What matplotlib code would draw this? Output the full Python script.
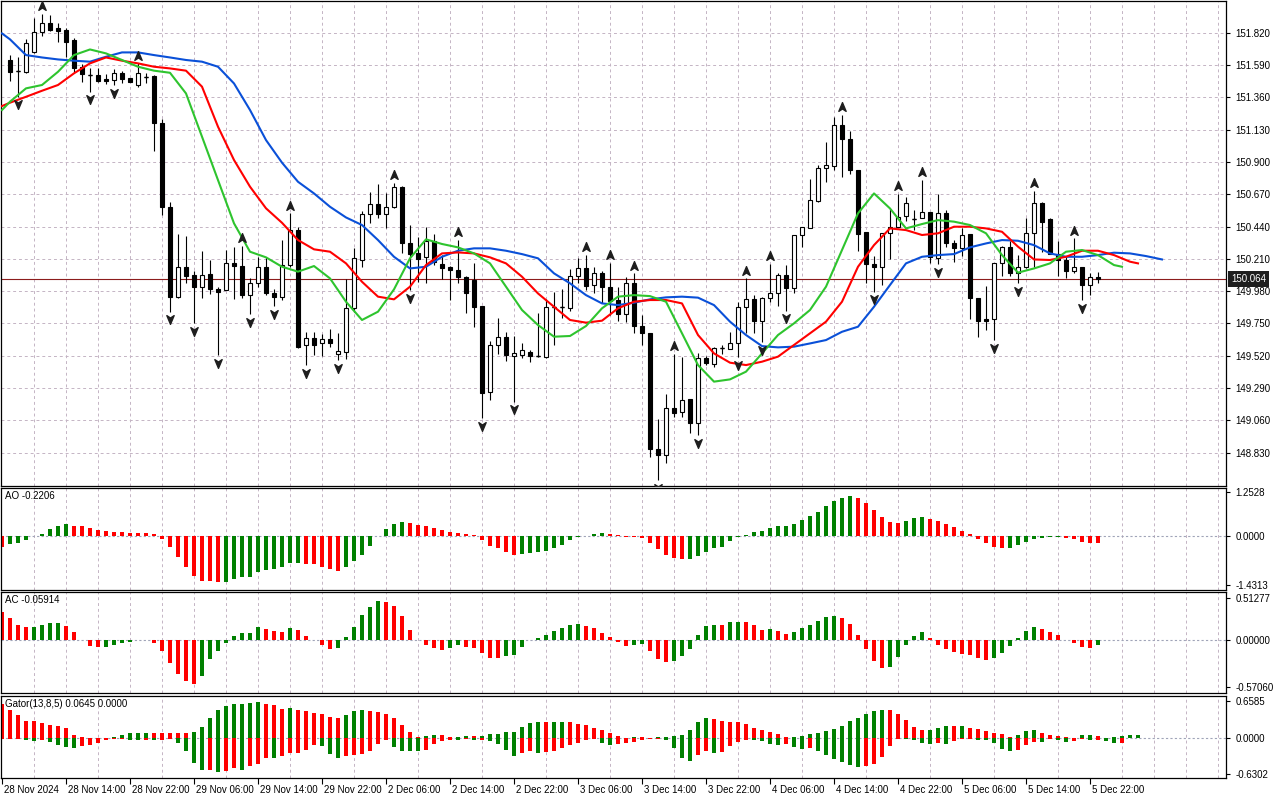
import numpy as np
import matplotlib
matplotlib.use("Agg")
import matplotlib.pyplot as plt
from matplotlib.path import Path
from matplotlib.ticker import FormatStrFormatter
from matplotlib.transforms import offset_copy, blended_transform_factory, ScaledTranslation

# ---- hourly candles, bar 0 = 28 Nov 07:00 ----
opens = [151.625, 151.547, 151.542, 151.685, 151.827, 151.886, 151.851, 151.839, 151.768, 151.578,
         151.519, 151.519, 151.490, 151.483, 151.531, 151.497, 151.447, 151.507, 151.512, 151.179,
         150.577, 149.936, 150.154, 150.093, 150.007, 150.100, 149.993, 149.988, 150.183, 150.159,
         149.955, 150.035, 150.149, 149.964, 149.941, 150.166, 150.415, 149.594, 149.644, 149.608,
         149.637, 149.532, 149.549, 149.858, 150.202, 150.527, 150.598, 150.527, 150.577, 150.719,
         150.325, 150.249, 150.221, 150.339, 150.171, 150.154, 150.130, 150.083, 150.059, 149.874,
         149.264, 149.596, 149.651, 149.518, 149.525, 149.549, 149.518, 149.509, 149.869, 149.869,
         149.858, 150.088, 150.142, 150.024, 150.107, 150.007, 149.917, 149.817, 150.040, 149.732,
         149.679, 148.854, 148.813, 149.146, 149.122, 149.210, 149.039, 149.502, 149.461, 149.573,
         149.568, 149.611, 149.865, 149.922, 149.770, 149.929, 149.967, 150.095, 150.000, 150.380,
         150.427, 150.624, 150.854, 150.873, 151.163, 151.061, 150.842, 150.399, 150.173, 150.154,
         150.396, 150.434, 150.515, 150.496, 150.498, 150.541, 150.214, 150.539, 150.325, 150.285,
         150.387, 149.929, 149.779, 149.779, 150.178, 150.292, 150.111, 150.154, 150.396, 150.605,
         150.491, 150.244, 150.202, 150.126, 150.149, 150.024, 150.078]
highs = [151.661, 151.650, 151.773, 151.922, 151.953, 151.945, 151.891, 151.851, 151.780, 151.597,
         151.566, 151.571, 151.526, 151.559, 151.549, 151.500, 151.602, 151.531, 151.519, 151.203,
         150.612, 150.384, 150.372, 150.126, 150.268, 150.202, 150.007, 150.273, 150.297, 150.305,
         150.071, 150.221, 150.221, 149.993, 150.344, 150.534, 150.439, 149.691, 149.691, 149.673,
         149.708, 149.679, 150.064, 150.285, 150.553, 150.683, 150.742, 150.676, 150.752, 150.728,
         150.451, 150.368, 150.439, 150.384, 150.237, 150.161, 150.344, 150.088, 150.178, 149.874,
         149.627, 149.786, 149.687, 149.663, 149.608, 149.561, 149.822, 149.922, 149.976, 149.993,
         150.135, 150.213, 150.237, 150.154, 150.126, 150.183, 150.012, 150.078, 150.107, 149.810,
         149.684, 149.067, 149.248, 149.532, 149.513, 149.210, 149.542, 149.518, 149.585, 149.596,
         149.691, 149.905, 150.071, 149.953, 149.941, 150.173, 150.111, 150.166, 150.380, 150.440,
         150.778, 150.878, 151.044, 151.222, 151.235, 151.123, 150.842, 150.399, 150.230, 150.396,
         150.562, 150.672, 150.652, 150.558, 150.771, 150.541, 150.672, 150.558, 150.344, 150.427,
         150.387, 149.929, 150.017, 150.178, 150.301, 150.339, 150.237, 150.498, 150.695, 150.617,
         150.498, 150.339, 150.230, 150.356, 150.149, 150.111, 150.119]
lows = [151.478, 151.365, 151.530, 151.675, 151.796, 151.834, 151.756, 151.649, 151.542, 151.471,
        151.400, 151.471, 151.455, 151.445, 151.464, 151.467, 151.436, 151.460, 150.980, 150.522,
        149.834, 149.934, 150.040, 149.751, 149.929, 149.960, 149.525, 149.988, 149.924, 149.934,
        149.817, 150.012, 149.952, 149.874, 149.917, 150.154, 149.573, 149.454, 149.525, 149.518,
        149.585, 149.490, 149.495, 149.834, 150.154, 150.467, 150.498, 150.432, 150.570, 150.249,
        149.988, 150.047, 150.040, 150.166, 150.064, 149.917, 150.036, 149.827, 149.727, 149.074,
        149.205, 149.532, 149.485, 149.193, 149.502, 149.478, 149.514, 149.502, 149.596, 149.786,
        149.841, 150.040, 149.988, 149.964, 149.893, 149.810, 149.770, 149.763, 149.679, 149.596,
        148.797, 148.636, 148.754, 149.086, 149.086, 148.972, 148.956, 149.454, 149.438, 149.532,
        149.568, 149.509, 149.679, 149.684, 149.617, 149.905, 149.874, 149.841, 149.969, 150.292,
        150.427, 150.617, 150.759, 150.842, 150.795, 150.814, 150.268, 150.040, 149.976, 150.026,
        150.211, 150.434, 150.482, 150.415, 150.498, 150.178, 150.170, 150.297, 150.190, 150.230,
        149.779, 149.651, 149.703, 149.632, 150.088, 150.088, 150.036, 150.142, 150.154, 150.261,
        150.244, 150.088, 150.071, 150.111, 149.917, 149.953, 150.040]
closes = [151.542, 151.547, 151.749, 151.827, 151.886, 151.843, 151.834, 151.756, 151.566, 151.526,
          151.519, 151.476, 151.478, 151.531, 151.493, 151.471, 151.531, 151.507, 151.179, 150.577,
          149.936, 150.154, 150.088, 150.007, 150.097, 149.993, 149.976, 150.183, 150.161, 149.952,
          150.035, 150.149, 149.964, 149.936, 150.166, 150.415, 149.585, 149.644, 149.594, 149.637,
          149.608, 149.554, 149.858, 150.214, 150.527, 150.598, 150.527, 150.577, 150.719, 150.325,
          150.244, 150.211, 150.339, 150.185, 150.147, 150.130, 150.078, 149.969, 149.869, 149.257,
          149.596, 149.651, 149.525, 149.537, 149.561, 149.518, 149.518, 149.865, 149.869, 149.869,
          150.088, 150.142, 150.017, 150.107, 150.007, 149.912, 149.817, 150.040, 149.732, 149.679,
          148.854, 148.813, 149.146, 149.115, 149.205, 149.039, 149.502, 149.466, 149.573, 149.573,
          149.611, 149.865, 149.922, 149.770, 149.929, 149.964, 150.095, 150.000, 150.380, 150.434,
          150.629, 150.854, 150.878, 151.163, 151.061, 150.842, 150.387, 150.171, 150.154, 150.391,
          150.439, 150.510, 150.605, 150.496, 150.541, 150.221, 150.534, 150.325, 150.285, 150.380,
          149.929, 149.770, 149.770, 150.178, 150.292, 150.107, 150.154, 150.396, 150.605, 150.475,
          150.244, 150.202, 150.126, 150.149, 150.024, 150.078, 150.064]

fractal_up = [4, 16, 29, 35, 48, 56, 72, 75, 78, 83, 92, 95, 104, 111, 114, 128, 133]
fractal_down = [1, 10, 13, 20, 23, 26, 30, 33, 37, 41, 50, 59, 63, 81, 86, 91, 94, 97,
                108, 116, 123, 126, 134]

# ---- Alligator (already shifted forward, read every 2nd bar) ----
jaw_bars = [-1] + list(range(0, 145, 2))
jaw = [151.815, 151.773, 151.661, 151.644, 151.630, 151.621, 151.614, 151.649, 151.680, 151.680,
       151.661, 151.644, 151.626, 151.614, 151.578, 151.459, 151.270, 151.056, 150.895, 150.759,
       150.676, 150.581, 150.505, 150.451, 150.344, 150.225, 150.142, 150.154, 150.225, 150.268,
       150.285, 150.285, 150.268, 150.244, 150.214, 150.107, 150.036, 149.952, 149.893, 149.881,
       149.898, 149.922, 149.936, 149.941, 149.934, 149.881, 149.763, 149.668, 149.589, 149.580,
       149.585, 149.608, 149.632, 149.691, 149.727, 149.869, 150.024, 150.178, 150.225, 150.237,
       150.244, 150.292, 150.320, 150.344, 150.339, 150.308, 150.249, 150.225, 150.225, 150.237,
       150.254, 150.249, 150.230, 150.206]
teeth_bars = [-1] + list(range(0, 141, 2)) + [141]
teeth = [151.298, 151.322, 151.364, 151.407, 151.448, 151.531, 151.602, 151.644, 151.621, 151.602,
         151.578, 151.566, 151.550, 151.436, 151.151, 150.914, 150.724, 150.570, 150.467, 150.344,
         150.278, 150.261, 150.178, 150.047, 149.941, 149.922, 150.012, 150.166, 150.249, 150.256,
         150.249, 150.221, 150.178, 150.083, 149.964, 149.869, 149.775, 149.756, 149.770, 149.858,
         149.905, 149.917, 149.917, 149.893, 149.668, 149.537, 149.471, 149.454, 149.478, 149.514,
         149.597, 149.680, 149.763, 149.905, 150.154, 150.308, 150.427, 150.415, 150.380, 150.392,
         150.439, 150.439, 150.427, 150.403, 150.297, 150.206, 150.202, 150.225, 150.268, 150.268,
         150.237, 150.190, 150.178]
lips_bars = [-1] + list(range(0, 139, 2)) + [139]
lips = [151.270, 151.329, 151.424, 151.448, 151.542, 151.661, 151.701, 151.673, 151.626, 151.578,
        151.550, 151.535, 151.388, 151.080, 150.771, 150.463, 150.261, 150.221, 150.154, 150.119,
        150.159, 150.071, 149.905, 149.775, 149.834, 149.993, 150.214, 150.349, 150.316, 150.292,
        150.249, 150.178, 150.012, 149.846, 149.739, 149.656, 149.661, 149.732, 149.858, 149.941,
        149.952, 149.945, 149.905, 149.680, 149.454, 149.336, 149.352, 149.407, 149.537, 149.668,
        149.751, 149.846, 150.012, 150.273, 150.534, 150.676, 150.569, 150.427, 150.458, 150.486,
        150.475, 150.451, 150.392, 150.237, 150.112, 150.142, 150.178, 150.261, 150.273, 150.237,
        150.166, 150.154]

# ---- oscillators, first value is the half-hidden bar at the left edge ----
ao = [-0.309, -0.241, -0.212, -0.135, 0.005, 0.058, 0.193, 0.270, 0.338, 0.289,
      0.270, 0.212, 0.154, 0.125, 0.096, 0.095, 0.094, 0.093, 0.092, 0.039,
      -0.096, -0.328, -0.598, -0.887, -1.148, -1.292, -1.295, -1.321, -1.320, -1.234,
      -1.176, -1.175, -1.032, -0.993, -0.964, -0.907, -0.791, -0.772, -0.820, -0.825,
      -0.887, -0.964, -1.003, -0.887, -0.733, -0.540, -0.280, -0.010, 0.183, 0.328,
      0.386, 0.357, 0.299, 0.270, 0.212, 0.154, 0.096, 0.090, 0.039, 0.010,
      -0.135, -0.280, -0.366, -0.453, -0.540, -0.511, -0.482, -0.453, -0.424, -0.338,
      -0.251, -0.135, -0.039, -0.005, 0.050, 0.070, 0.065, 0.010, -0.039, -0.045,
      -0.077, -0.212, -0.395, -0.540, -0.627, -0.675, -0.670, -0.569, -0.453, -0.366,
      -0.309, -0.164, -0.039, 0.019, 0.096, 0.125, 0.212, 0.270, 0.280, 0.328,
      0.444, 0.559, 0.675, 0.849, 0.993, 1.080, 1.138, 1.080, 0.935, 0.733,
      0.530, 0.386, 0.380, 0.415, 0.501, 0.530, 0.473, 0.415, 0.328, 0.241,
      0.125, 0.039, -0.096, -0.212, -0.309, -0.366, -0.360, -0.270, -0.183, -0.096,
      -0.068, -0.039, -0.035, -0.068, -0.096, -0.183, -0.200, -0.2206]
ac = [0.343, 0.271, 0.186, 0.162, 0.165, 0.186, 0.210, 0.212, 0.174, 0.101,
      0.004, -0.069, -0.081, -0.078, -0.061, -0.032, -0.020, 0.004, 0.002, -0.040,
      -0.129, -0.283, -0.412, -0.501, -0.529, -0.432, -0.234, -0.137, -0.040, 0.053,
      0.089, 0.091, 0.162, 0.137, 0.113, 0.101, 0.150, 0.125, 0.053, 0.004,
      -0.057, -0.105, -0.093, 0.040, 0.162, 0.307, 0.404, 0.477, 0.465, 0.416,
      0.295, 0.125, 0.002, -0.057, -0.093, -0.117, -0.093, -0.057, -0.081, -0.093,
      -0.154, -0.214, -0.216, -0.190, -0.178, -0.081, 0.002, 0.024, 0.065, 0.113,
      0.150, 0.186, 0.198, 0.174, 0.150, 0.089, 0.040, -0.028, -0.069, -0.055,
      -0.048, -0.129, -0.226, -0.271, -0.250, -0.198, -0.105, 0.065, 0.174, 0.186,
      0.184, 0.222, 0.224, 0.220, 0.186, 0.125, 0.137, 0.113, 0.077, 0.101,
      0.150, 0.186, 0.234, 0.283, 0.295, 0.271, 0.198, 0.065, -0.105, -0.259,
      -0.343, -0.331, -0.210, -0.053, 0.053, 0.101, 0.028, -0.053, -0.113, -0.149,
      -0.174, -0.176, -0.222, -0.246, -0.222, -0.162, -0.077, 0.028, 0.113, 0.162,
      0.137, 0.101, 0.065, -0.002, -0.040, -0.089, -0.091, -0.05914]
gator_up = [0.600, 0.500, 0.412, 0.312, 0.306, 0.271, 0.235, 0.212, 0.177, 0.065,
            0.018, 0.010, 0.005, 0.003, 0.024, 0.059, 0.100, 0.101, 0.102, 0.101,
            0.100, 0.099, 0.098, 0.097, 0.118, 0.200, 0.359, 0.500, 0.571, 0.606,
            0.608, 0.624, 0.641, 0.606, 0.589, 0.518, 0.536, 0.500, 0.483, 0.447,
            0.430, 0.377, 0.359, 0.412, 0.483, 0.500, 0.483, 0.465, 0.430, 0.359,
            0.235, 0.112, 0.024, 0.041, 0.059, 0.057, 0.024, 0.030, 0.041, 0.040,
            0.042, 0.077, 0.078, 0.112, 0.113, 0.200, 0.271, 0.288, 0.287, 0.289,
            0.290, 0.288, 0.253, 0.235, 0.182, 0.147, 0.094, 0.041, 0.006, 0.024,
            0.023, 0.006, 0.024, 0.025, 0.041, 0.059, 0.147, 0.288, 0.359, 0.341,
            0.306, 0.288, 0.287, 0.253, 0.182, 0.147, 0.112, 0.077, 0.024, 0.025,
            0.041, 0.077, 0.094, 0.129, 0.165, 0.218, 0.306, 0.359, 0.430, 0.483,
            0.500, 0.499, 0.430, 0.324, 0.200, 0.147, 0.150, 0.182, 0.218, 0.216,
            0.219, 0.182, 0.165, 0.129, 0.094, 0.077, 0.024, 0.059, 0.129, 0.147,
            0.094, 0.059, 0.041, 0.024, 0.015, 0.059, 0.060, 0.041, 0.005, 0.024,
            0.041, 0.059, 0.0645]
gator_down = [-0.006, -0.004, -0.002, -0.024, -0.041, -0.018, -0.059, -0.118, -0.153, -0.171,
              -0.129, -0.118, -0.077, -0.024, -0.006, -0.002, -0.025, -0.028, -0.024, -0.027,
              -0.018, -0.012, -0.077, -0.224, -0.430, -0.553, -0.550, -0.589, -0.577, -0.524,
              -0.553, -0.488, -0.453, -0.347, -0.350, -0.306, -0.253, -0.250, -0.200, -0.112,
              -0.129, -0.271, -0.341, -0.306, -0.288, -0.271, -0.218, -0.094, -0.024, -0.147,
              -0.218, -0.220, -0.222, -0.200, -0.094, -0.041, -0.024, -0.025, -0.003, -0.024,
              -0.022, -0.041, -0.094, -0.200, -0.306, -0.253, -0.218, -0.253, -0.235, -0.218,
              -0.165, -0.112, -0.077, -0.024, -0.005, -0.077, -0.112, -0.094, -0.077, -0.059,
              -0.018, -0.006, -0.003, -0.024, -0.165, -0.341, -0.394, -0.288, -0.218, -0.253,
              -0.235, -0.129, -0.059, -0.024, -0.026, -0.041, -0.094, -0.112, -0.094, -0.147,
              -0.182, -0.165, -0.218, -0.288, -0.359, -0.412, -0.465, -0.500, -0.483, -0.447,
              -0.324, -0.129, -0.003, -0.010, -0.029, -0.077, -0.094, -0.077, -0.094, -0.041,
              -0.006, -0.005, -0.024, -0.025, -0.077, -0.182, -0.218, -0.200, -0.112, -0.059,
              -0.060, -0.006, -0.024, -0.059, -0.041, -0.006, -0.024, -0.018, -0.041, -0.077,
              -0.076]

price_ticks = [151.820, 151.590, 151.360, 151.130, 150.900, 150.670, 150.440, 150.210,
               149.980, 149.750, 149.520, 149.290, 149.060, 148.830]
ao_ticks = [1.2528, 0.0, -1.4313]
ao_tick_labels = ["1.2528", "0.0000", "-1.4313"]
ac_ticks = [0.51277, 0.0, -0.57060]
ac_tick_labels = ["0.51277", "0.00000", "-0.57060"]
gator_ticks = [0.6585, 0.0, -0.6302]
gator_tick_labels = ["0.6585", "0.0000", "-0.6302"]

time_label_bars = list(range(-1, 136, 8))
time_labels = ["28 Nov 2024", "28 Nov 14:00", "28 Nov 22:00", "29 Nov 06:00", "29 Nov 14:00",
               "29 Nov 22:00", "2 Dec 06:00", "2 Dec 14:00", "2 Dec 22:00", "3 Dec 06:00",
               "3 Dec 14:00", "3 Dec 22:00", "4 Dec 06:00", "4 Dec 14:00", "4 Dec 22:00",
               "5 Dec 06:00", "5 Dec 14:00", "5 Dec 22:00"]

GREEN = "#008000"
RED = "#ff0000"
GRID = "#c4b4c4"

plt.rcParams["font.family"] = ["Liberation Sans", "DejaVu Sans"]
plt.rcParams["font.size"] = 7

fig = plt.figure(figsize=(12.8, 8), dpi=100)
fig.patch.set_facecolor("white")


def panel(top, bottom):
    ax = fig.add_axes([1 / 1280, 1 - bottom / 800, 1225 / 1280, (bottom - top) / 800])
    ax.set_xlim(-1.125, 152)
    ax.set_xticks(np.arange(3, 152, 4), minor=True)
    ax.set_xticks([])
    ax.grid(True, which="minor", axis="x", color=GRID, ls=(0, (3, 3)), lw=0.7)
    ax.tick_params(axis="x", which="both", length=0, labelbottom=False)
    ax.yaxis.tick_right()
    ax.tick_params(axis="y", which="major", length=3, width=0.8, pad=4, labelsize=7)
    ax.tick_params(axis="y", which="minor", length=0)
    for s in ax.spines.values():
        s.set_linewidth(0.9)
    ax.set_axisbelow(True)
    return ax


def trend_colors(values):
    v = np.asarray(values)
    rising = np.r_[False, v[1:] > v[:-1]]
    return np.where(rising, GREEN, RED)


# ---- main chart ----
ax = panel(1, 486)
ax.set_ylim(148.593, 152.046)
ax.set_yticks(price_ticks)
ax.yaxis.set_major_formatter(FormatStrFormatter("%.3f"))
ax.grid(True, which="major", axis="y", color=GRID, ls=(0, (3, 3)), lw=0.7)

o = np.array(opens)
h = np.array(highs)
l = np.array(lows)
c = np.array(closes)
x = np.arange(len(o))
bull = c >= o
ax.vlines(x, l, h, color="black", lw=0.8, zorder=2)
ax.bar(x, np.abs(c - o), bottom=np.minimum(o, c), width=0.5,
       color=np.where(bull, "white", "black"), edgecolor="black", linewidth=0.8, zorder=3)
doji = np.isclose(o, c)
ax.hlines(c[doji], x[doji] - 0.3, x[doji] + 0.3, color="black", lw=1.0, zorder=3)

ax.plot(jaw_bars, jaw, color="#0a50d8", lw=1.5, zorder=4)
ax.plot(teeth_bars, teeth, color="#ff0000", lw=1.5, zorder=4)
ax.plot(lips_bars, lips, color="#2ec42e", lw=1.5, zorder=4)

up_marker = Path([(0, 1), (0.75, -0.8), (0, -0.3), (-0.75, -0.8), (0, 1)],
                 [Path.MOVETO, Path.LINETO, Path.LINETO, Path.LINETO, Path.CLOSEPOLY])
down_marker = Path([(0, -1), (0.75, 0.8), (0, 0.3), (-0.75, 0.8), (0, -1)],
                   [Path.MOVETO, Path.LINETO, Path.LINETO, Path.LINETO, Path.CLOSEPOLY])
up_tr = offset_copy(ax.transData, fig=fig, y=5.5, units="points")
dn_tr = offset_copy(ax.transData, fig=fig, y=-5.5, units="points")
ax.plot(fractal_up, h[fractal_up], ls="none", marker=up_marker, ms=7,
        color="#1e1e1e", transform=up_tr, zorder=5)
ax.plot(fractal_down, l[fractal_down], ls="none", marker=down_marker, ms=7,
        color="#1e1e1e", transform=dn_tr, zorder=5)

last = c[-1]
ax.axhline(last, color="#8c1c1c", lw=0.8, zorder=1.5)
tag_tr = blended_transform_factory(ax.transAxes, ax.transData) + ScaledTranslation(5 / 100, 0, fig.dpi_scale_trans)
ax.text(1.0, last, f"{last:.3f}", transform=tag_tr, ha="left", va="center", color="white",
        fontsize=7, bbox=dict(boxstyle="square,pad=0.3", fc="#1e1e1e", ec="none"), clip_on=False)


def oscillator(top, bottom, bars, values, ylim, ticks, tick_labels, title, colors):
    axo = panel(top, bottom)
    axo.bar(bars, values, width=0.5, color=colors, zorder=2)
    axo.axhline(0, color="#a0a4b8", ls=(0, (2, 2)), lw=0.8, zorder=1)
    axo.set_ylim(*ylim)
    axo.set_yticks(ticks)
    axo.set_yticklabels(tick_labels)
    axo.annotate(title, xy=(0, 1), xycoords="axes fraction", xytext=(4, -3),
                 textcoords="offset pixels", ha="left", va="top", fontsize=7)
    return axo


ao_bars = np.arange(-1, len(ao) - 1)
oscillator(488, 590, ao_bars, ao, (-1.562, 1.377), ao_ticks, ao_tick_labels,
           f"AO {ao[-1]:.4f}", trend_colors(ao))

ac_bars = np.arange(-1, len(ac) - 1)
oscillator(592, 693, ac_bars, ac, (-0.642, 0.585), ac_ticks, ac_tick_labels,
           f"AC {ac[-1]:.5f}", trend_colors(ac))

gu_bars = np.arange(-1, len(gator_up) - 1)
gd_bars = np.arange(-1, len(gator_down) - 1)
axg = oscillator(696, 778, gu_bars, gator_up, (-0.695, 0.747), gator_ticks, gator_tick_labels,
                 f"Gator(13,8,5) {gator_up[-1]:.4f} 0.0000", trend_colors(gator_up))
axg.bar(gd_bars, gator_down, width=0.5, color=trend_colors(np.abs(gator_down)), zorder=2)

axg.set_xticks(time_label_bars)
axg.set_xticklabels(time_labels, ha="left")
axg.tick_params(axis="x", which="major", length=4, width=0.8, labelbottom=True, pad=1, labelsize=7)
shift = ScaledTranslation(2 / 100, 0, fig.dpi_scale_trans)
for lab in axg.get_xticklabels():
    lab.set_transform(lab.get_transform() + shift)

fig.savefig("out.png", dpi=100, facecolor="white")
